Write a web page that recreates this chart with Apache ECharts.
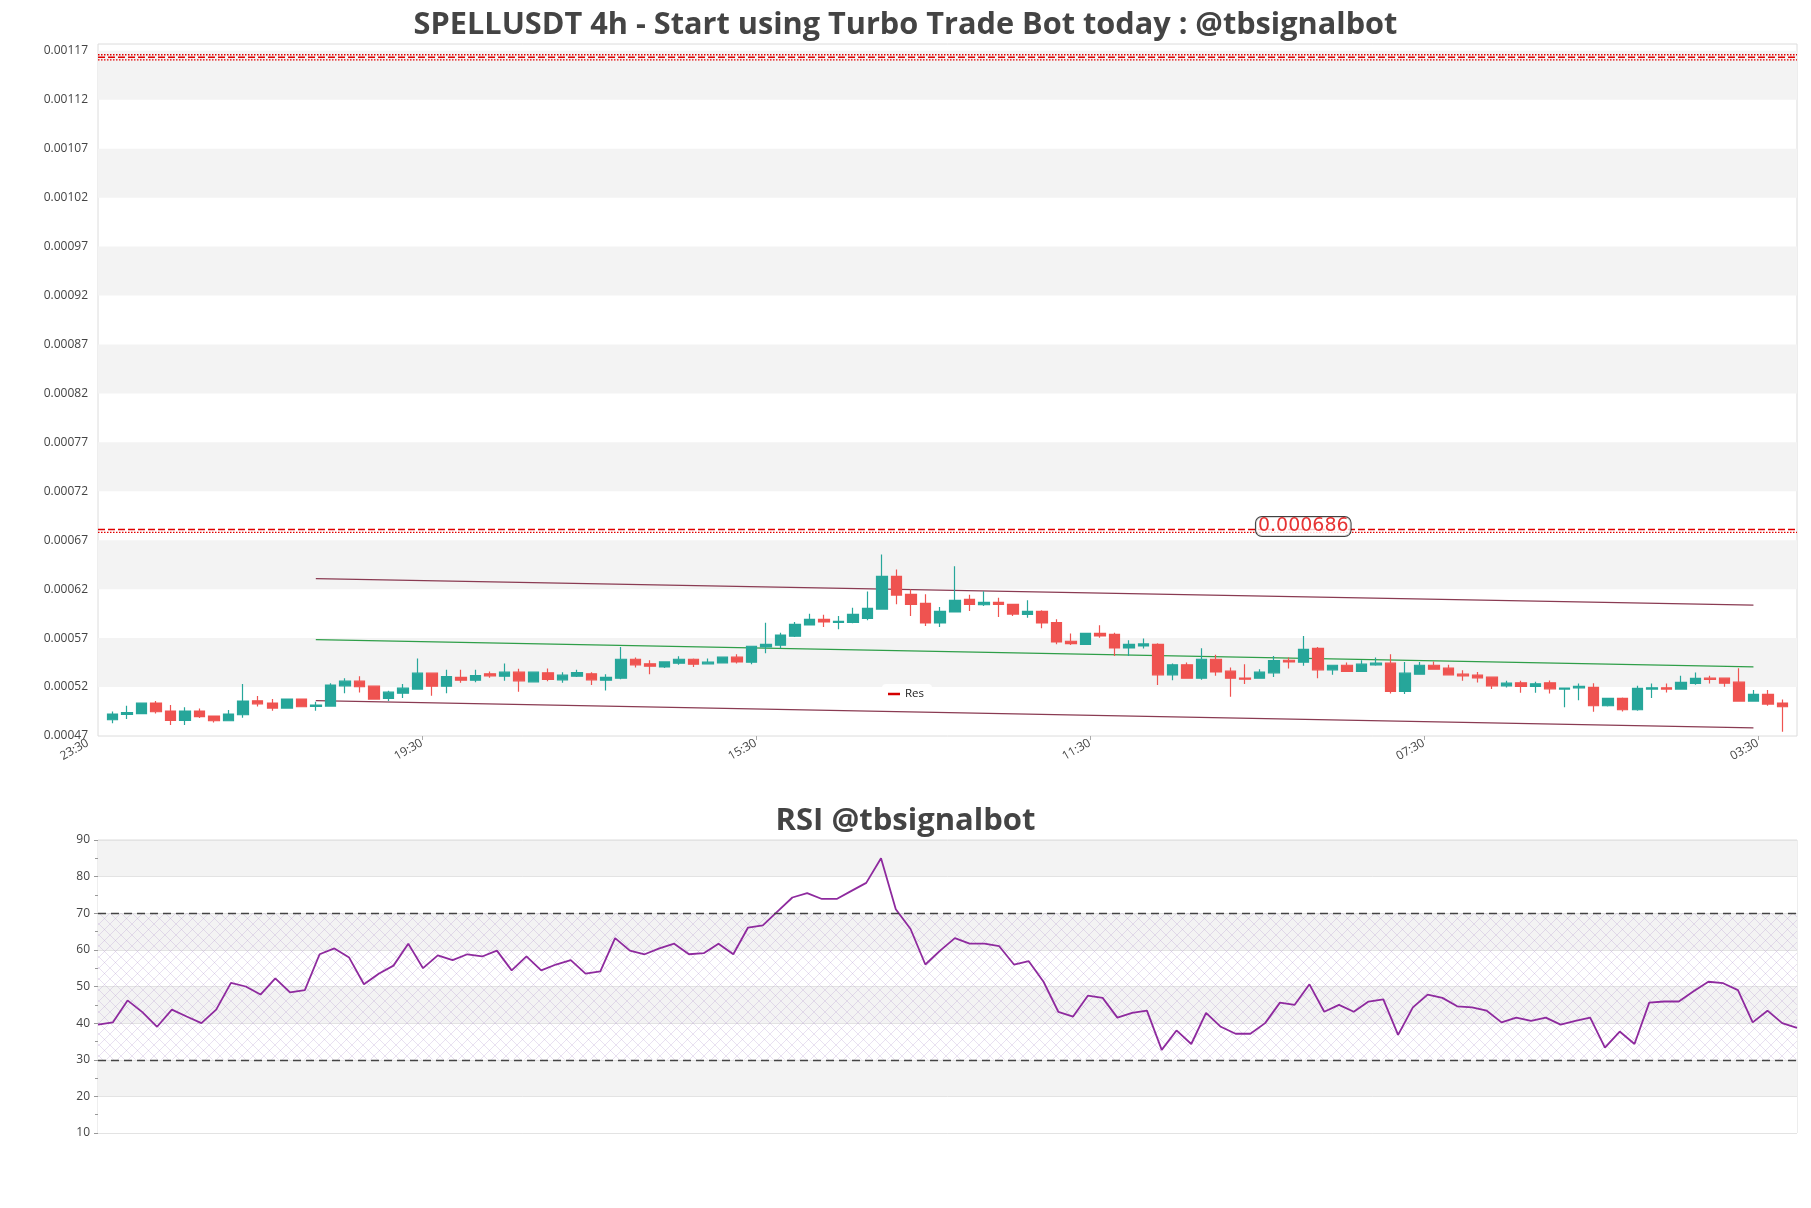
<!DOCTYPE html>
<html><head><meta charset="utf-8">
<script src="https://cdn.jsdelivr.net/npm/echarts@6/dist/echarts.min.js"></script>
<style>html,body{margin:0;padding:0;background:#fff}#c{width:1811px;height:1208px}</style>
</head><body><div id="c"></div>
<script>
// ---------- data ----------
const opens = [0.0004866,0.0004921,0.0004928,0.0005036,0.0004955,0.0004860,0.0004955,0.0004904,0.0004856,0.0004917,
0.0005060,0.0005036,0.0004985,0.0005077,0.0005002,0.0005006,0.0005213,0.0005260,0.0005209,0.0005084,
0.0005138,0.0005179,0.0005342,0.0005209,0.0005298,0.0005270,0.0005335,0.0005311,0.0005352,0.0005254,
0.0005345,0.0005274,0.0005311,0.0005335,0.0005270,0.0005291,0.0005484,0.0005437,0.0005406,0.0005444,
0.0005484,0.0005437,0.0005447,0.0005505,0.0005454,0.0005610,0.0005627,0.0005719,0.0005834,0.0005892,
0.0005861,0.0005861,0.0005902,0.0005997,0.0006330,0.0006147,0.0006055,0.0005855,0.0005967,0.0006096,
0.0006041,0.0006065,0.0006045,0.0005943,0.0005974,0.0005858,0.0005668,0.0005637,0.0005749,0.0005739,
0.0005600,0.0005620,0.0005637,0.0005325,0.0005427,0.0005291,0.0005484,0.0005362,0.0005291,0.0005291,
0.0005345,0.0005474,0.0005454,0.0005596,0.0005376,0.0005423,0.0005359,0.0005427,0.0005444,0.0005155,
0.0005332,0.0005423,0.0005393,0.0005332,0.0005321,0.0005301,0.0005213,0.0005243,0.0005206,0.0005243,
0.0005179,0.0005192,0.0005196,0.0005009,0.0005084,0.0004968,0.0005179,0.0005192,0.0005179,0.0005237,
0.0005291,0.0005291,0.0005250,0.0005057,0.0005125,0.0005036];
const closes = [0.0004924,0.0004938,0.0005036,0.0004948,0.0004860,0.0004955,0.0004897,0.0004856,0.0004924,0.0005057,
0.0005029,0.0004985,0.0005077,0.0004999,0.0005016,0.0005220,0.0005260,0.0005203,0.0005077,0.0005148,
0.0005189,0.0005342,0.0005209,0.0005308,0.0005270,0.0005318,0.0005315,0.0005352,0.0005264,0.0005352,
0.0005277,0.0005321,0.0005349,0.0005274,0.0005298,0.0005484,0.0005427,0.0005413,0.0005457,0.0005484,
0.0005434,0.0005454,0.0005505,0.0005457,0.0005617,0.0005637,0.0005732,0.0005841,0.0005892,0.0005865,
0.0005872,0.0005943,0.0006004,0.0006330,0.0006140,0.0006045,0.0005855,0.0005974,0.0006086,0.0006045,
0.0006065,0.0006045,0.0005946,0.0005974,0.0005855,0.0005661,0.0005644,0.0005749,0.0005722,0.0005600,
0.0005637,0.0005641,0.0005325,0.0005427,0.0005291,0.0005484,0.0005355,0.0005291,0.0005281,0.0005352,
0.0005471,0.0005457,0.0005586,0.0005376,0.0005423,0.0005359,0.0005434,0.0005444,0.0005155,0.0005342,
0.0005423,0.0005383,0.0005325,0.0005315,0.0005294,0.0005213,0.0005240,0.0005206,0.0005233,0.0005182,
0.0005189,0.0005206,0.0005009,0.0005084,0.0004968,0.0005186,0.0005192,0.0005179,0.0005247,0.0005288,
0.0005277,0.0005240,0.0005057,0.0005125,0.0005026,0.0004999];
const lows = [0.0004829,0.0004873,0.0004928,0.0004931,0.0004812,0.0004812,0.0004883,0.0004839,0.0004856,0.0004887,
0.0005002,0.0004958,0.0004978,0.0004999,0.0004958,0.0005002,0.0005138,0.0005145,0.0005070,0.0005057,
0.0005087,0.0005179,0.0005111,0.0005138,0.0005243,0.0005250,0.0005294,0.0005264,0.0005152,0.0005247,
0.0005260,0.0005243,0.0005304,0.0005220,0.0005166,0.0005281,0.0005400,0.0005332,0.0005396,0.0005427,
0.0005406,0.0005430,0.0005447,0.0005440,0.0005434,0.0005546,0.0005596,0.0005712,0.0005831,0.0005814,
0.0005790,0.0005851,0.0005882,0.0005997,0.0006045,0.0005926,0.0005824,0.0005814,0.0005967,0.0005977,
0.0006028,0.0005916,0.0005926,0.0005909,0.0005800,0.0005637,0.0005630,0.0005630,0.0005705,0.0005518,
0.0005518,0.0005593,0.0005220,0.0005270,0.0005291,0.0005274,0.0005315,0.0005100,0.0005230,0.0005291,
0.0005304,0.0005389,0.0005417,0.0005291,0.0005325,0.0005359,0.0005359,0.0005417,0.0005135,0.0005128,
0.0005332,0.0005383,0.0005325,0.0005264,0.0005247,0.0005179,0.0005196,0.0005142,0.0005142,0.0005135,
0.0004995,0.0005066,0.0004948,0.0005002,0.0004951,0.0004958,0.0005087,0.0005145,0.0005179,0.0005223,
0.0005237,0.0005203,0.0005050,0.0005050,0.0005009,0.0004744];
const highs = [0.0004951,0.0005009,0.0005036,0.0005057,0.0005016,0.0004995,0.0004982,0.0004904,0.0004965,0.0005230,
0.0005108,0.0005077,0.0005084,0.0005077,0.0005050,0.0005240,0.0005291,0.0005311,0.0005216,0.0005162,
0.0005230,0.0005491,0.0005342,0.0005376,0.0005376,0.0005376,0.0005359,0.0005440,0.0005386,0.0005359,
0.0005389,0.0005352,0.0005376,0.0005352,0.0005332,0.0005610,0.0005501,0.0005474,0.0005464,0.0005515,
0.0005491,0.0005491,0.0005505,0.0005535,0.0005617,0.0005858,0.0005756,0.0005865,0.0005950,0.0005940,
0.0005926,0.0006011,0.0006177,0.0006554,0.0006401,0.0006198,0.0006147,0.0006018,0.0006435,0.0006143,
0.0006180,0.0006113,0.0006052,0.0006086,0.0005984,0.0005892,0.0005746,0.0005756,0.0005831,0.0005756,
0.0005678,0.0005695,0.0005647,0.0005440,0.0005450,0.0005596,0.0005529,0.0005400,0.0005434,0.0005383,
0.0005518,0.0005501,0.0005722,0.0005610,0.0005423,0.0005450,0.0005474,0.0005501,0.0005535,0.0005457,
0.0005457,0.0005460,0.0005427,0.0005372,0.0005355,0.0005301,0.0005264,0.0005264,0.0005254,0.0005267,
0.0005196,0.0005237,0.0005240,0.0005084,0.0005094,0.0005213,0.0005237,0.0005237,0.0005315,0.0005349,
0.0005315,0.0005291,0.0005393,0.0005169,0.0005169,0.0005073];
const rsi = [39.6,40.2,46.2,43.0,39.0,43.7,41.8,40.0,43.7,51.0,
50.0,47.8,52.2,48.4,49.0,58.8,60.4,57.9,50.6,53.5,
55.7,61.7,55.0,58.5,57.2,58.8,58.2,59.8,54.4,58.2,
54.4,56.0,57.2,53.5,54.1,63.2,59.8,58.8,60.4,61.7,
58.8,59.1,61.7,58.8,66.1,66.7,70.5,74.3,75.5,73.9,
73.9,76.1,78.3,85.0,71.1,65.7,56.0,59.8,63.2,61.7,
61.7,61.0,56.0,56.9,51.3,43.1,41.8,47.5,46.9,41.5,
42.8,43.4,32.7,38.0,34.3,42.8,39.0,37.1,37.1,40.0,
45.6,45.0,50.6,43.1,45.0,43.1,45.9,46.5,36.8,44.3,
47.8,46.9,44.6,44.3,43.4,40.2,41.5,40.6,41.5,39.6,
40.6,41.5,33.3,37.7,34.3,45.6,45.9,45.9,48.7,51.3,
50.9,49.0,40.2,43.4,40.0,38.7];

// trend channel: [candle index, price]
const upperLine = [[14, 0.0006308], [113, 0.0006038]];
const midLine   = [[14, 0.0005685], [113, 0.0005407]];
const lowerLine = [[14, 0.0005062], [113, 0.0004783]];

// resistance
const resLabel = '0.000686';
const resLabelAt = [82, 0.000684];
const resLevelsDashed = [0.000681, 0.0011635];
const resLevelsDotted = [0.000678, 0.0011608, 0.0011660];

// axes
const yTicks = [0.00047,0.00052,0.00057,0.00062,0.00067,0.00072,0.00077,0.00082,0.00087,0.00092,0.00097,0.00102,0.00107,0.00112,0.00117];
const yMin = 0.00047, yMax = 0.001177;
const xTickLabels = ['23:30','19:30','15:30','11:30','07:30','03:30'];
const xTickIndex  = [-2, 21, 44, 67, 90, 113];
const rsiLevels = [70, 30];

// ---------- build ----------
const N = opens.length;
const startHour = 7; // first candle 07:30
const cats = [];
for (let i = 0; i < N; i++) { const h = (startHour + 4 * i) % 24; cats.push(String(h).padStart(2,'0') + ':30'); }
const candleCats = [''].concat(cats).concat(['']);
const lastCat = candleCats.length - 1;
const candleData = opens.map((o, i) => [i + 1, o, closes[i], lows[i], highs[i]]);
const tickShift = 1.3;
const tickVals = xTickIndex.slice(1).map(v => v + tickShift);
const tickLab = {};
xTickIndex.forEach((v, k) => { tickLab[(v + tickShift).toFixed(2)] = xTickLabels[k]; });

const bands = [];
for (let k = 1; k + 1 < yTicks.length; k += 2) bands.push([{ yAxis: yTicks[k] }, { yAxis: yTicks[k + 1] }]);

const pc = document.createElement('canvas'); pc.width = 11; pc.height = 11;
const pctx = pc.getContext('2d');
pctx.strokeStyle = 'rgba(170,140,200,0.33)'; pctx.lineWidth = 0.8;
pctx.beginPath(); pctx.moveTo(0, 0); pctx.lineTo(11, 11); pctx.moveTo(11, 0); pctx.lineTo(0, 11); pctx.stroke();

const FONT = '"Open Sans", "DejaVu Sans", sans-serif';
const G1 = { left: 98, right: 14, top: 44, height: 692 };
const G2 = { left: 98, right: 14, top: 840, height: 293 };
const chLine = (d, c) => ({
  type: 'line', xAxisIndex: 0, yAxisIndex: 0, data: d.map(p => [p[0] + 1, p[1]]),
  showSymbol: false, silent: true, z: 3, lineStyle: { color: c, width: 1.2 }, itemStyle: { color: c }
});
const hLine = (name, v, type, width) => ({
  name: name, type: 'line', xAxisIndex: 0, yAxisIndex: 0, data: [[0, v], [lastCat, v]],
  showSymbol: false, silent: true, z: 5, itemStyle: { color: '#d40000' },
  lineStyle: { color: '#e00000', type: type, width: width }
});

const series = [
  { name: 'price', type: 'candlestick', xAxisIndex: 0, yAxisIndex: 0, data: candleData,
    encode: { x: 0, y: [1, 2, 3, 4] }, barWidth: 11, z: 4,
    itemStyle: { color: '#26a69a', color0: '#ef5350', borderColor: '#26a69a', borderColor0: '#ef5350', borderWidth: 1.2 },
    markArea: { silent: true, z: 0, itemStyle: { color: '#f3f3f3' }, data: bands },
    markLine: { silent: true, z: 1, symbol: ['none', 'none'], label: { show: false },
      lineStyle: { color: '#e2e2e2', type: 'solid', width: 1 }, data: yTicks.map(v => ({ yAxis: v })) } },
  chLine(upperLine, '#8a3b52'),
  chLine(midLine, '#2e9e48'),
  chLine(lowerLine, '#8a3b52')
];
resLevelsDashed.forEach((v, k) => series.push(hLine(k === 0 ? 'Res' : 'Res2', v, [7, 3], 1.6)));
resLevelsDotted.forEach(v => series.push(hLine('Res2', v, [1.5, 1.5], 1.3)));
series.push({ name: 'ResLabel', type: 'scatter', xAxisIndex: 0, yAxisIndex: 0, z: 6, silent: true,
  data: [[resLabelAt[0] + 1, resLabelAt[1]]], symbolSize: 1, itemStyle: { color: 'rgba(0,0,0,0)' },
  label: { show: true, position: 'inside', formatter: resLabel, color: '#e00000', fontSize: 19,
    fontFamily: '"DejaVu Sans", sans-serif', backgroundColor: '#fff', borderColor: '#111', borderWidth: 1,
    borderRadius: 6, padding: [0, 2, 0, 2] } });
series.push({ name: 'RSI', type: 'line', xAxisIndex: 2, yAxisIndex: 1, data: rsi, showSymbol: false, z: 4,
  lineStyle: { color: '#8e2a9e', width: 1.8 }, itemStyle: { color: '#8e2a9e' },
  markArea: { silent: true, itemStyle: { color: { image: pc, repeat: 'repeat' } },
    data: [[{ yAxis: rsiLevels[1] }, { yAxis: rsiLevels[0] }]] },
  markLine: { silent: true, symbol: ['none', 'none'], label: { show: false },
    lineStyle: { color: '#444', type: [8, 5], width: 1.3 }, data: rsiLevels.map(v => ({ yAxis: v })) } });

const option = {
  animation: false,
  backgroundColor: '#fff',
  textStyle: { fontFamily: FONT },
  title: [
    { text: 'SPELLUSDT 4h - Start using Turbo Trade Bot today : @tbsignalbot', left: 'center', top: 5,
      textStyle: { fontFamily: FONT, fontWeight: 'bold', fontSize: 30.7, color: '#444' } },
    { text: 'RSI @tbsignalbot', left: 'center', top: 801,
      textStyle: { fontFamily: FONT, fontWeight: 'bold', fontSize: 31, color: '#444' } }
  ],
  legend: {
    data: ['Res'], left: 882, top: 684, icon: 'rect', itemWidth: 12, itemHeight: 2.5, itemGap: 6,
    backgroundColor: 'rgba(255,255,255,0.9)', borderRadius: 4, padding: [4, 8, 4, 6],
    textStyle: { fontFamily: FONT, fontSize: 11.5, color: '#222' }
  },
  grid: [
    Object.assign({ show: true, borderColor: '#dcdcdc', borderWidth: 1, backgroundColor: '#fff' }, G1),
    Object.assign({ show: true, borderColor: '#dcdcdc', borderWidth: 1, backgroundColor: '#fff' }, G2)
  ],
  xAxis: [
    { type: 'category', gridIndex: 0, data: candleCats, boundaryGap: false,
      axisLine: { show: false }, axisTick: { show: false }, axisLabel: { show: false }, splitLine: { show: false } },
    { type: 'value', gridIndex: 0, min: 0, max: lastCat, position: 'bottom',
      axisLine: { show: false }, splitLine: { show: false },
      axisTick: { show: true, customValues: tickVals, length: 4, lineStyle: { color: '#aaa' } },
      axisLabel: { customValues: tickVals, rotate: 30, margin: 6, fontSize: 12, color: '#444', fontFamily: FONT,
        formatter: v => tickLab[Number(v).toFixed(2)] || '' } },
    { type: 'category', gridIndex: 1, data: cats, boundaryGap: false,
      axisLine: { show: false }, axisTick: { show: false }, axisLabel: { show: false }, splitLine: { show: false } }
  ],
  yAxis: [
    { type: 'value', gridIndex: 0, min: yMin, max: yMax, scale: true,
      axisLine: { show: false }, axisTick: { show: false }, splitLine: { show: false },
      axisLabel: { customValues: yTicks, fontSize: 12, color: '#444', margin: 10, fontFamily: FONT,
        formatter: v => Number(v).toFixed(5) } },
    { type: 'value', gridIndex: 1, min: 10, max: 90, interval: 10,
      axisLine: { show: false },
      axisTick: { show: true, length: 4, lineStyle: { color: '#999' } },
      minorTick: { show: true, splitNumber: 2, length: 3, lineStyle: { color: '#999' } },
      splitLine: { show: true, lineStyle: { color: '#e3e3e3' } },
      splitArea: { show: true, areaStyle: { color: ['#ffffff', '#f3f3f3'] } },
      axisLabel: { fontSize: 12, color: '#444', margin: 8, fontFamily: FONT } }
  ],
  series: series
};

const chart = echarts.init(document.getElementById('c'), null, { renderer: 'canvas' });
chart.setOption(option);
// first time label lies left of the visible x range: place it through the axis scale
const px = chart.convertToPixel({ xAxisIndex: 1 }, xTickIndex[0] + tickShift);
const py = G1.top + G1.height + 6;
chart.setOption({ graphic: [{ type: 'text', x: px, y: py, rotation: Math.PI / 6, silent: true,
  style: { text: xTickLabels[0], align: 'right', verticalAlign: 'middle', font: '12px ' + FONT, fill: '#444' } }] });
</script>
</body></html>
